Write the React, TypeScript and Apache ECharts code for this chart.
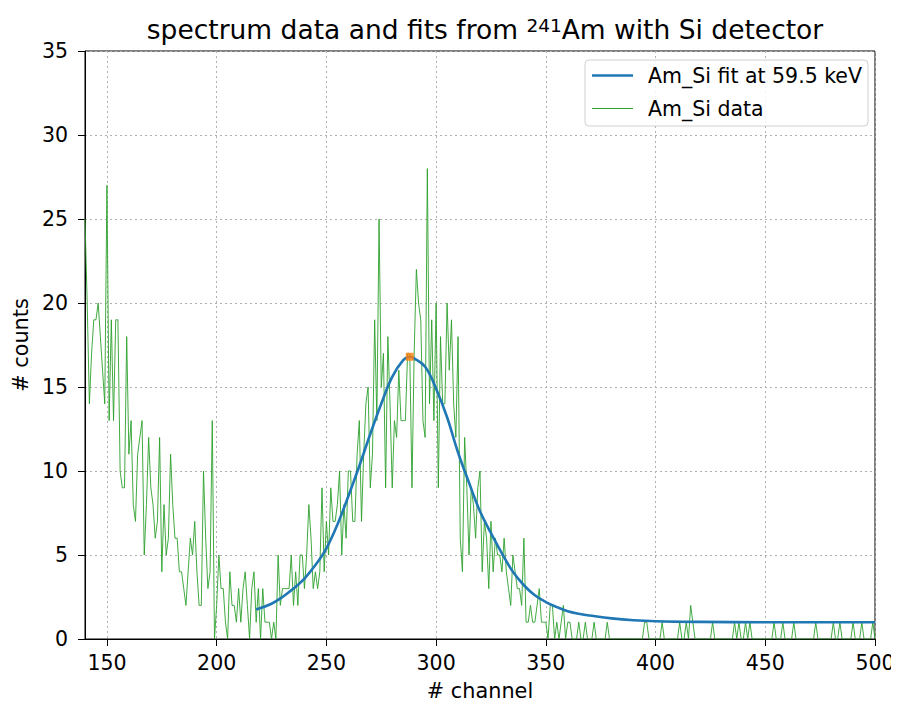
import React, { useEffect, useRef } from "react";
import * as echarts from "echarts";

// channels 140..500 (one entry per channel)
const firstChannel = 140;
const counts: number[] = [
  25, 20, 14, 17, 19, 19, 20, 18, 16, 14, // 140
  27, 13, 19, 13, 19, 19, 10, 9, 9, 18, // 150
  11, 13, 8, 7, 11, 12, 13, 5, 8, 12, // 160
  9, 8, 6, 7, 12, 4, 8, 5, 6, 11, // 170
  8, 6, 6, 4, 4, 3, 2, 4, 6, 5, // 180
  7, 4, 2, 2, 10, 6, 3, 4, 13, 0, // 190
  2, 5, 3, 3, 1, 0, 4, 2, 2, 1, // 200
  3, 1, 3, 4, 2, 0, 3, 4, 1, 3, // 210
  0, 3, 1, 1, 1, 0, 1, 0, 5, 2, // 220
  3, 3, 3, 3, 5, 2, 4, 2, 5, 5, // 230
  3, 5, 8, 6, 3, 4, 3, 4, 9, 4, // 240
  7, 5, 9, 7, 7, 8, 10, 5, 8, 6, // 250
  10, 10, 7, 7, 11, 13, 7, 11, 14, 15, // 260
  9, 11, 19, 13, 25, 15, 17, 9, 18, 14, // 270
  9, 13, 12, 16, 13, 13, 13, 17, 17, 9, // 280
  17, 22, 20, 19, 13, 12, 28, 14, 19, 13, // 290
  20, 9, 18, 14, 14, 20, 16, 19, 14, 12, // 300
  18, 6, 4, 12, 9, 5, 9, 8, 6, 9, // 310
  10, 4, 7, 6, 3, 7, 4, 6, 5, 5, // 320
  4, 6, 4, 3, 2, 5, 4, 3, 3, 2, // 330
  6, 1, 1, 2, 1, 1, 2, 3, 1, 1, // 340
  1, 0, 2, 2, 0, 1, 0, 1, 2, 0, // 350
  1, 1, 0, 0, 0, 1, 0, 0, 1, 0, // 360
  0, 0, 1, 0, 0, 0, 0, 0, 1, 0, // 370
  0, 0, 0, 0, 0, 0, 0, 0, 0, 0, // 380
  0, 0, 0, 0, 0, 1, 1, 0, 0, 0, // 390
  0, 0, 0, 1, 0, 0, 0, 0, 0, 0, // 400
  0, 1, 0, 0, 1, 0, 2, 1, 0, 0, // 410
  0, 0, 0, 0, 0, 0, 1, 0, 0, 0, // 420
  0, 0, 0, 0, 0, 0, 1, 0, 1, 0, // 430
  0, 1, 0, 1, 0, 0, 0, 0, 0, 0, // 440
  0, 0, 0, 0, 1, 0, 0, 0, 1, 0, // 450
  0, 0, 0, 1, 0, 0, 0, 0, 0, 0, // 460
  0, 0, 0, 1, 0, 0, 0, 0, 0, 0, // 470
  0, 1, 0, 0, 1, 0, 0, 0, 0, 0, // 480
  1, 0, 0, 0, 1, 0, 0, 0, 0, 1, // 490
  0, // 500
];

// fit curve
const fitChannels = [218, 225, 230, 235, 240, 245, 250, 255, 260, 265, 270, 275, 280, 285, 288, 290, 295, 300, 305, 310, 315, 320, 325, 330, 335, 340, 345, 350, 355, 360, 365, 370, 380, 390, 400, 420, 450, 500];
const fitValues = [1.75, 2.1, 2.5, 3.0, 3.6, 4.4, 5.4, 6.8, 8.5, 10.3, 12.2, 14.0, 15.6, 16.6, 16.8, 16.7, 16.2, 14.9, 13.2, 11.1, 9.3, 7.6, 6.3, 5.1, 4.0, 3.2, 2.6, 2.2, 1.9, 1.65, 1.5, 1.4, 1.23, 1.12, 1.06, 1.02, 1.0, 1.0];

const peakPoint = [288, 16.8];

const xTicks = [150, 200, 250, 300, 350, 400, 450, 500];

const fitName = "Am_Si fit at 59.5 keV";
const dataName = "Am_Si data";

const FONT = "DejaVu Sans";

export default function App() {
  const ref = useRef<HTMLDivElement>(null);

  useEffect(() => {
    if (!ref.current) return;
    const chart = echarts.init(ref.current, undefined, { renderer: "svg" });

    const dataPts = counts.map((v, i) => [firstChannel + i, v]);
    const fitPts = fitChannels.map((c, i) => [c, fitValues[i]]);

    chart.setOption({
      animation: false,
      backgroundColor: "#ffffff",
      title: {
        text: "spectrum data and fits from {sup|241}Am with Si detector",
        left: 480,
        top: 11,
        textAlign: "center",
        textStyle: {
          fontFamily: FONT,
          fontSize: 26.5,
          fontWeight: "normal",
          color: "#000",
          rich: {
            sup: {
              fontFamily: FONT,
              fontSize: 18.5,
              color: "#000",
              verticalAlign: "top",
            },
          },
        },
      },
      grid: {
        left: 85,
        right: 24,
        top: 51,
        bottom: 67,
        show: true,
        borderColor: "#000",
        borderWidth: 1,
        backgroundColor: "transparent",
      },
      legend: {
        left: 585,
        top: 60,
        orient: "vertical",
        data: [
          { name: fitName, icon: "path://M0,0H40V2.6H0Z" },
          { name: dataName, icon: "path://M0,0H40V1H0Z" },
        ],
        itemWidth: 41,
        itemHeight: 20,
        itemGap: 12,
        padding: [5, 6, 7, 7],
        backgroundColor: "rgba(255,255,255,0.85)",
        borderColor: "#d0d0d0",
        borderWidth: 1,
        borderRadius: 4,
        textStyle: { fontFamily: FONT, fontSize: 20.5, color: "#000", padding: [0, 0, 0, 10] },
      },
      xAxis: {
        type: "value",
        min: 140,
        max: 500,
        name: "# channel",
        nameLocation: "middle",
        nameGap: 41,
        nameTextStyle: { fontFamily: FONT, fontSize: 20.8, color: "#000" },
        axisLine: { show: true, lineStyle: { color: "#000", width: 1 } },
        axisTick: { show: true, length: 7, customValues: xTicks, lineStyle: { color: "#000" } },
        axisLabel: {
          customValues: xTicks,
          fontFamily: FONT,
          fontSize: 20.5,
          color: "#000",
          margin: 13,
        },
        splitLine: { show: true, lineStyle: { color: "#b0b0b0", type: [2, 3], width: 1 } },
      },
      yAxis: {
        type: "value",
        min: 0,
        max: 35,
        interval: 5,
        name: "# counts",
        nameLocation: "middle",
        nameGap: 54,
        nameRotate: 90,
        nameTextStyle: { fontFamily: FONT, fontSize: 20.8, color: "#000" },
        axisLine: { show: true, lineStyle: { color: "#000", width: 1 } },
        axisTick: { show: true, length: 7, lineStyle: { color: "#000" } },
        axisLabel: { fontFamily: FONT, fontSize: 20.5, color: "#000", margin: 17 },
        splitLine: { show: true, lineStyle: { color: "#b0b0b0", type: [2, 3], width: 1 } },
      },
      series: [
        {
          name: dataName,
          type: "line",
          data: dataPts,
          showSymbol: false,
          symbol: "none",
          z: 2,
          color: "#2ca02c",
          lineStyle: { color: "#2ca02c", width: 0.9 },
          itemStyle: { color: "#2ca02c" },
        },
        {
          name: fitName,
          type: "line",
          data: fitPts,
          smooth: 0.4,
          showSymbol: false,
          symbol: "none",
          z: 3,
          color: "#1f77b4",
          lineStyle: { color: "#1f77b4", width: 2.6 },
          itemStyle: { color: "#1f77b4" },
        },
        {
          name: "peak",
          type: "scatter",
          data: [peakPoint],
          symbol: "rect",
          symbolSize: 8,
          z: 4,
          itemStyle: { color: "#ff7f0e" },
        },
      ],
    });

    return () => chart.dispose();
  }, []);

  return <div ref={ref} style={{ width: 899, height: 706, margin: -8 }} />;
}
